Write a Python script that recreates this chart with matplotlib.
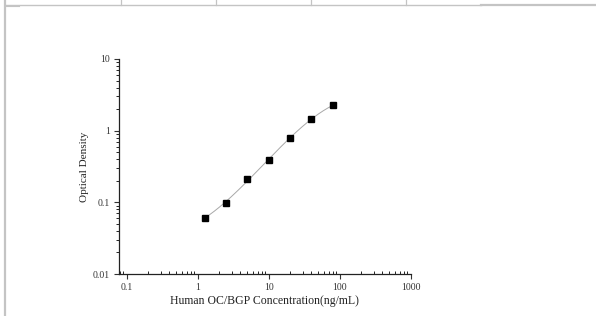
import numpy as np
import matplotlib
matplotlib.use("Agg")
import matplotlib.pyplot as plt
from matplotlib.lines import Line2D
from matplotlib.ticker import LogLocator, NullFormatter, FixedLocator, FixedFormatter

# standard curve data
conc = [1.25, 2.5, 5, 10, 20, 40, 80]
od = [0.061, 0.097, 0.213, 0.386, 0.789, 1.466, 2.25]

x_ticks = [0.1, 1, 10, 100, 1000]
x_labels = ["0.1", "1", "10", "100", "1000"]
y_ticks = [0.01, 0.1, 1, 10]
y_labels = ["0.01", "0.1", "1", "10"]

plt.rcParams["font.family"] = ["Liberation Serif", "DejaVu Serif"]

W, H = 596, 316
fig = plt.figure(figsize=(W / 100, H / 100), dpi=100)
ax = fig.add_axes([119 / W, 1 - 274 / H, (410.7 - 119) / W, (274 - 59) / H])

# smooth fit through the standards (cubic in log-log space)
lx, ly = np.log10(conc), np.log10(od)
coef = np.polyfit(lx, ly, 3)
xs = np.linspace(lx[0], lx[-1], 200)
ax.plot(10 ** xs, 10 ** np.polyval(coef, xs), color="#a8a8a8", lw=0.7, zorder=1)
ax.plot(conc, od, "s", color="black", ms=3.8, zorder=2)

ax.set_xscale("log")
ax.set_yscale("log")
ax.set_xlim(0.078, 1000)
ax.set_ylim(0.01, 10)

ax.xaxis.set_major_locator(FixedLocator(x_ticks))
ax.xaxis.set_major_formatter(FixedFormatter(x_labels))
ax.yaxis.set_major_locator(FixedLocator(y_ticks))
ax.yaxis.set_major_formatter(FixedFormatter(y_labels))
ax.xaxis.set_minor_locator(LogLocator(base=10, subs=np.arange(2, 10)))
ax.yaxis.set_minor_locator(LogLocator(base=10, subs=np.arange(2, 10)))
ax.xaxis.set_minor_formatter(NullFormatter())
ax.yaxis.set_minor_formatter(NullFormatter())

ax.tick_params(which="major", direction="out", length=3.5, width=0.8,
               labelsize=7, colors="#333333", pad=3)
ax.tick_params(axis="x", which="minor", direction="in", length=2, width=0.6)
ax.tick_params(axis="y", which="minor", direction="out", length=2, width=0.6)

for side in ["top", "right"]:
    ax.spines[side].set_visible(False)
for side in ["left", "bottom"]:
    ax.spines[side].set_linewidth(0.9)
    ax.spines[side].set_color("#222222")

ax.set_xlabel("Human OC/BGP Concentration(ng/mL)", fontsize=8.5, labelpad=2, color="#222222")
ax.set_ylabel("Optical Density", fontsize=8, labelpad=3, color="#222222")

# page frame lines around the chart
gray = "#c4c4c4"
def px_line(x0, y0, x1, y1, lw=1.0):
    fig.add_artist(Line2D([x0 / W, x1 / W], [1 - y0 / H, 1 - y1 / H],
                          color=gray, lw=lw, transform=fig.transFigure))

px_line(5, 0, 5, H, lw=1.6)
px_line(5, 4.5, 481, 4.5, lw=1.0)
px_line(481, 5, W, 5, lw=1.6)
px_line(5, 5.5, 19, 5.5, lw=0.8)
for xv in [121, 216, 311, 406]:
    px_line(xv, 0, xv, 4.5, lw=0.9)

fig.savefig("out.png", dpi=100)
